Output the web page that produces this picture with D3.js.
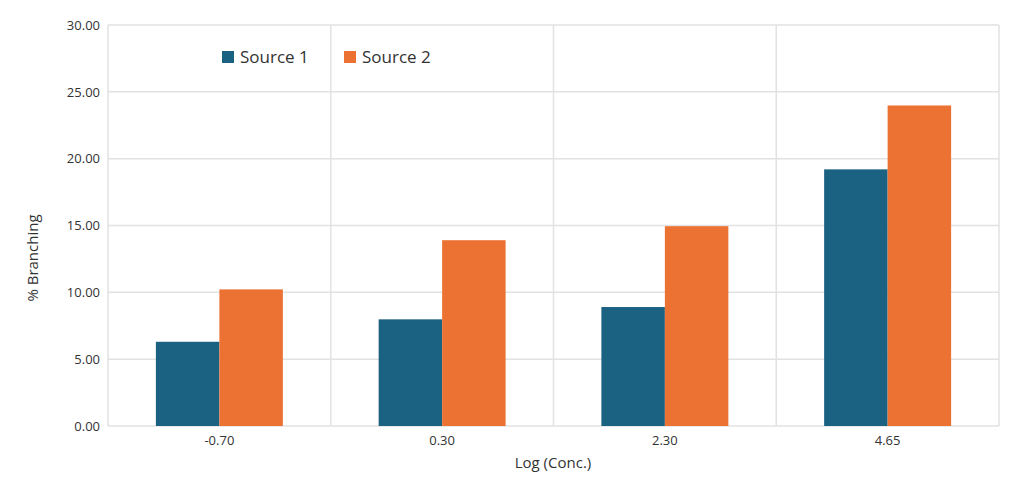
<!DOCTYPE html>
<html>
<head>
<meta charset="utf-8">
<script src="https://cdnjs.cloudflare.com/ajax/libs/d3/7.8.5/d3.min.js"></script>
<style>
body{margin:0;background:#fff;}
svg text{font-family:"Open Sans","Lato",sans-serif;fill:#333;}
</style>
</head>
<body>
<div id="chart"></div>
<script>
var categories = ["-0.70", "0.30", "2.30", "4.65"];
var seriesNames = ["Source 1", "Source 2"];
var source1 = [6.3, 7.98, 8.9, 19.2];
var source2 = [10.22, 13.9, 14.95, 23.98];
var yTicks = [0, 5, 10, 15, 20, 25, 30];
var colors = ["#1b6182", "#ec7234"];

var width = 1024, height = 492;
var margin = {top: 25, right: 25, bottom: 66, left: 108};

var svg = d3.select("#chart").append("svg")
	.attr("width", width)
	.attr("height", height);

var x = d3.scaleBand()
	.domain(categories)
	.range([margin.left, width - margin.right])
	.padding(0);

var x1 = d3.scaleBand()
	.domain(seriesNames)
	.range([0, x.bandwidth() * 0.57])
	.padding(0);

var y = d3.scaleLinear()
	.domain([0, 30])
	.range([height - margin.bottom, margin.top]);

// horizontal grid
svg.append("g")
	.selectAll("line")
	.data(yTicks)
	.enter().append("line")
	.attr("x1", margin.left)
	.attr("x2", width - margin.right)
	.attr("y1", function(d){ return y(d); })
	.attr("y2", function(d){ return y(d); })
	.attr("stroke", "#e2e2e2")
	.attr("stroke-width", 1.5);

// vertical grid at category boundaries
var bounds = categories.map(function(c){ return x(c); }).concat([width - margin.right]);
svg.append("g")
	.selectAll("line")
	.data(bounds)
	.enter().append("line")
	.attr("x1", function(d){ return d; })
	.attr("x2", function(d){ return d; })
	.attr("y1", margin.top)
	.attr("y2", height - margin.bottom)
	.attr("stroke", "#e2e2e2")
	.attr("stroke-width", 1.5);

// bars
var rows = categories.map(function(c, i){
	return {cat: c, vals: [source1[i], source2[i]]};
});
var groups = svg.append("g")
	.selectAll("g")
	.data(rows)
	.enter().append("g")
	.attr("transform", function(d){
		return "translate(" + (x(d.cat) + (x.bandwidth() - x1.range()[1]) / 2) + ",0)";
	});
groups.selectAll("rect")
	.data(function(d){ return d.vals.map(function(v, j){ return {name: seriesNames[j], v: v, j: j}; }); })
	.enter().append("rect")
	.attr("x", function(d){ return x1(d.name); })
	.attr("width", x1.bandwidth())
	.attr("y", function(d){ return y(d.v); })
	.attr("height", function(d){ return y(0) - y(d.v); })
	.attr("fill", function(d){ return colors[d.j]; });

// y axis
var yAxis = svg.append("g")
	.attr("transform", "translate(" + margin.left + ",0)")
	.call(d3.axisLeft(y).tickValues(yTicks).tickFormat(d3.format(".2f")).tickSize(0).tickPadding(8));
yAxis.select(".domain").remove();
yAxis.selectAll("text").style("font-size", "13px").style("fill", "#333");

// x axis
var xAxis = svg.append("g")
	.attr("transform", "translate(0," + (height - margin.bottom) + ")")
	.call(d3.axisBottom(x).tickSize(0).tickPadding(10));
xAxis.select(".domain").remove();
xAxis.selectAll("text").style("font-size", "13px").style("fill", "#333");

// axis titles
svg.append("text")
	.attr("x", 553)
	.attr("y", 468)
	.attr("text-anchor", "middle")
	.style("font-size", "15px")
	.text("Log (Conc.)");

svg.append("text")
	.attr("transform", "translate(38,258) rotate(-90)")
	.attr("text-anchor", "middle")
	.style("font-size", "15px")
	.text("% Branching");

// legend
var legendX = [222, 344];
var legend = svg.append("g")
	.selectAll("g")
	.data(seriesNames)
	.enter().append("g")
	.attr("transform", function(d, i){ return "translate(" + legendX[i] + ",51)"; });
legend.append("rect")
	.attr("width", 12)
	.attr("height", 12)
	.attr("fill", function(d, i){ return colors[i]; });
legend.append("text")
	.attr("x", 18)
	.attr("y", 12)
	.style("font-size", "17px")
	.text(function(d){ return d; });
</script>
</body>
</html>
